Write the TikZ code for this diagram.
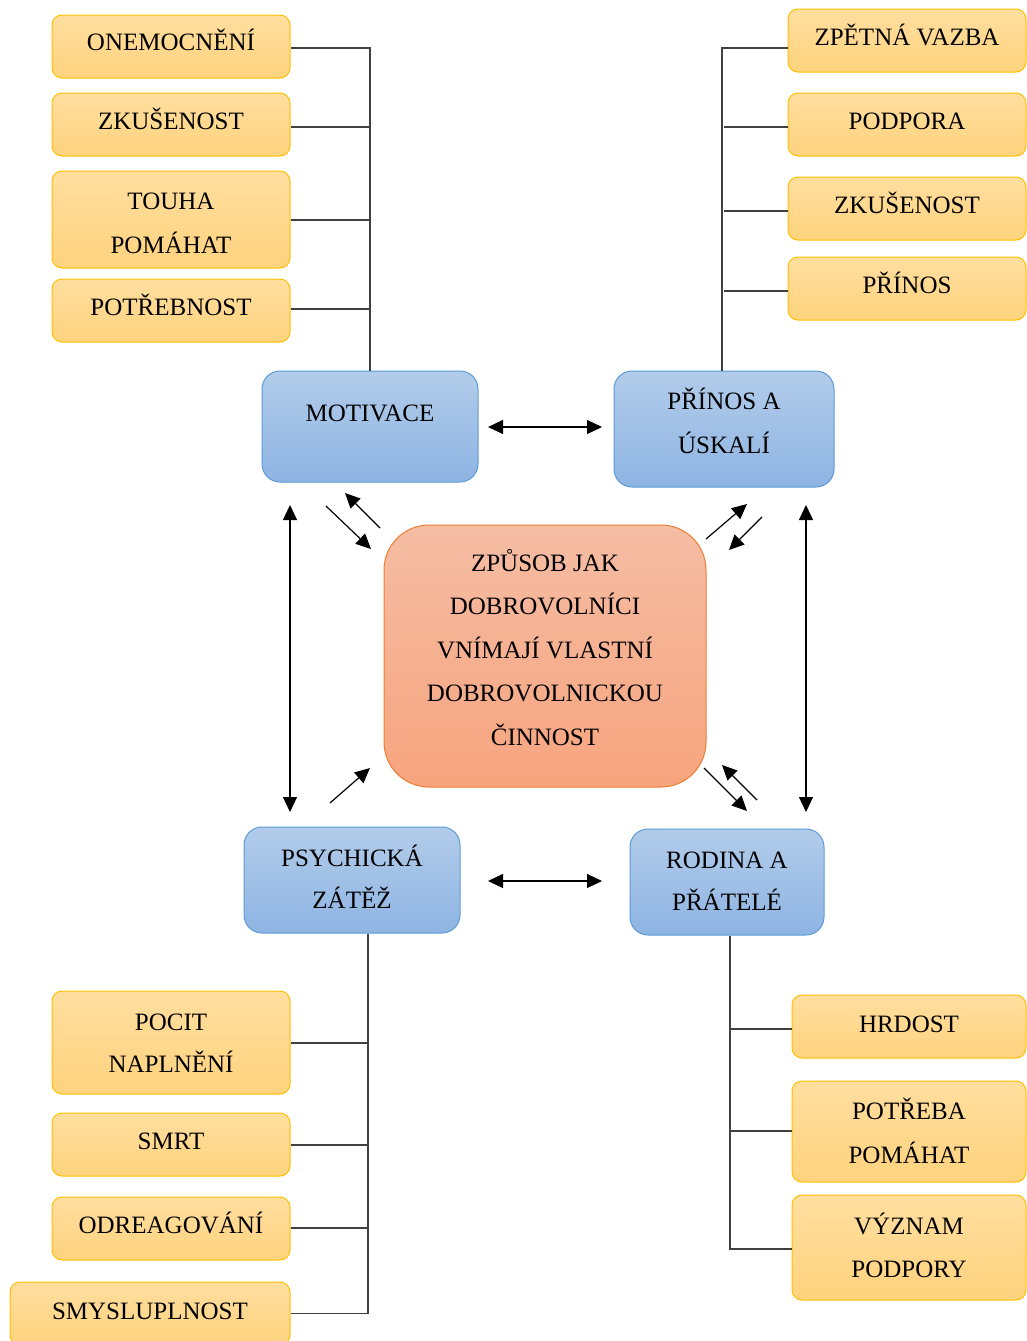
\documentclass[tikz,border=0pt]{standalone}
\usepackage{fontspec}
\setmainfont{Liberation Serif}
\usetikzlibrary{arrows.meta}
\definecolor{yline}{HTML}{FFC000}
\definecolor{ytop}{HTML}{FFDE9F}
\definecolor{ybot}{HTML}{FFD37E}
\definecolor{bline}{HTML}{5B9BD5}
\definecolor{btop}{HTML}{B2CCEA}
\definecolor{bbot}{HTML}{8EB4E3}
\definecolor{oline}{HTML}{ED7D31}
\definecolor{otop}{HTML}{F5BDA4}
\definecolor{obot}{HTML}{F7A47E}
\definecolor{cline}{HTML}{404040}
\tikzset{
  ybox/.style={draw=yline, line width=1pt, rounded corners=10pt, top color=ytop, bottom color=ybot, minimum width=238pt, inner sep=0pt},
  bbox/.style={draw=bline, line width=1pt, rounded corners=18pt, top color=btop, bottom color=bbot, inner sep=0pt},
  obox/.style={draw=oline, line width=1pt, rounded corners=45pt, top color=otop, bottom color=obot, inner sep=0pt},
  txt/.style={anchor=base, inner sep=0pt, font=\fontsize{25}{30}\selectfont},
  conn/.style={draw=cline, line width=1.5pt},
  arr/.style={line width=1.2pt, -{Triangle[length=15pt,width=14pt]}},
  darr/.style={line width=1.2pt, {Triangle[length=15pt,width=14pt]}-{Triangle[length=15pt,width=14pt]}},
}
\begin{document}
\begin{tikzpicture}[x=1pt,y=-1pt]
\useasboundingbox (0,0) rectangle (1027,1341);
\begin{scope}
\clip (0,0) rectangle (1027,1341);
% left top
\node[ybox, minimum height=63pt] (onem) at (171,46.5) {};
\node[txt] (tonem) at (171,50.5) {ONEMOCNĚNÍ};
\node[ybox, minimum height=63pt] (zk1) at (171,124.5) {};
\node[txt] (tzk1) at (171,129.5) {ZKUŠENOST};
\node[ybox, minimum height=97pt] (touha) at (171,219.5) {};
\node[txt] (ttouha1) at (171,209.5) {TOUHA};
\node[txt] (ttouha2) at (171,253.5) {POMÁHAT};
\node[ybox, minimum height=63pt] (potr) at (171,310.5) {};
\node[txt] (tpotr) at (171,315.5) {POTŘEBNOST};
% right top
\node[ybox, minimum height=63pt] (zpet) at (907,40.5) {};
\node[txt] (tzpet) at (907,45.5) {ZPĚTNÁ VAZBA};
\node[ybox, minimum height=63pt] (podp) at (907,124.5) {};
\node[txt] (tpodp) at (907,129.5) {PODPORA};
\node[ybox, minimum height=63pt] (zk2) at (907,208.5) {};
\node[txt] (tzk2) at (907,213.5) {ZKUŠENOST};
\node[ybox, minimum height=63pt] (prinos) at (907,288.5) {};
\node[txt] (tprinos) at (907,293.5) {PŘÍNOS};
% blue
\node[bbox, minimum width=216pt, minimum height=111pt] (mot) at (370,426.5) {};
\node[txt] (tmot) at (370,421.5) {MOTIVACE};
\node[bbox, minimum width=220pt, minimum height=116pt] (pri) at (724,429) {};
\node[txt] (tpri1) at (724,409.5) {PŘÍNOS A};
\node[txt] (tpri2) at (724,453.5) {ÚSKALÍ};
\node[bbox, minimum width=216pt, minimum height=106pt] (psy) at (352,880) {};
\node[txt] (tpsy1) at (352,866.5) {PSYCHICKÁ};
\node[txt] (tpsy2) at (352,908.5) {ZÁTĚŽ};
\node[bbox, minimum width=194pt, minimum height=106pt] (rod) at (727,882) {};
\node[txt] (trod1) at (727,868.5) {RODINA A};
\node[txt] (trod2) at (727,910.5) {PŘÁTELÉ};
% central
\node[obox, minimum width=322pt, minimum height=262pt] (cen) at (545,656) {};
\node[txt] (tc1) at (545,571.5) {ZPŮSOB JAK};
\node[txt] (tc2) at (545,614.5) {DOBROVOLNÍCI};
\node[txt] (tc3) at (545,658.5) {VNÍMAJÍ VLASTNÍ};
\node[txt] (tc4) at (545,701.5) {DOBROVOLNICKOU};
\node[txt] (tc5) at (545,745.5) {ČINNOST};
% bottom left
\node[ybox, minimum height=103pt] (pocit) at (171,1042.5) {};
\node[txt] (tpocit1) at (171,1030.5) {POCIT};
\node[txt] (tpocit2) at (171,1072.5) {NAPLNĚNÍ};
\node[ybox, minimum height=63pt] (smrt) at (171,1144.5) {};
\node[txt] (tsmrt) at (171,1149.5) {SMRT};
\node[ybox, minimum height=63pt] (odre) at (171,1228.5) {};
\node[txt] (todre) at (171,1233.5) {ODREAGOVÁNÍ};
\node[ybox, minimum width=280pt, minimum height=63pt] (smys) at (150,1313.5) {};
\node[txt] (tsmys) at (150,1319.5) {SMYSLUPLNOST};
% bottom right
\node[ybox, minimum width=234pt, minimum height=63pt] (hrd) at (909,1026.5) {};
\node[txt] (thrd) at (909,1032.5) {HRDOST};
\node[ybox, minimum width=234pt, minimum height=101pt] (potb) at (909,1131.5) {};
\node[txt] (tpotb1) at (909,1119.5) {POTŘEBA};
\node[txt] (tpotb2) at (909,1163.5) {POMÁHAT};
\node[ybox, minimum width=234pt, minimum height=105pt] (vyz) at (909,1247.5) {};
\node[txt] (tvyz1) at (909,1234.5) {VÝZNAM};
\node[txt] (tvyz2) at (909,1277.5) {PODPORY};
% tree connectors
\draw[conn] (mot.north) |- ([yshift=-1.5pt]onem.east);
\draw[conn] ([yshift=-2.5pt]zk1.east) -- ([yshift=-2.5pt]zk1.east -| mot.north);
\draw[conn] ([yshift=-0.5pt]touha.east) -- ([yshift=-0.5pt]touha.east -| mot.north);
\draw[conn] ([yshift=1.5pt]potr.east) -- ([yshift=1.5pt]potr.east -| mot.north);
\coordinate (prtop) at ([xshift=-2pt]pri.north);
\draw[conn] (prtop) |- ([yshift=-7.5pt]zpet.west);
\draw[conn] ([yshift=-2.5pt]podp.west) -- ([yshift=-2.5pt]podp.west -| pri.north);
\draw[conn] ([yshift=-2.5pt]zk2.west) -- ([yshift=-2.5pt]zk2.west -| pri.north);
\draw[conn] ([yshift=-2.5pt]prinos.west) -- ([yshift=-2.5pt]prinos.west -| pri.north);
\coordinate (psybot) at ([xshift=16pt]psy.south);
\draw[conn] (psybot) |- (smys.east);
\draw[conn] ([yshift=-0.5pt]pocit.east) -- ([yshift=-0.5pt]pocit.east -| psybot);
\draw[conn] ([yshift=-0.5pt]smrt.east) -- ([yshift=-0.5pt]smrt.east -| psybot);
\draw[conn] ([yshift=0.5pt]odre.east) -- ([yshift=0.5pt]odre.east -| psybot);
\coordinate (rodbot) at ([xshift=3pt]rod.south);
\draw[conn] (rodbot) |- ([yshift=-1.5pt]vyz.west);
\draw[conn] ([yshift=-2.5pt]hrd.west) -- ([yshift=-2.5pt]hrd.west -| rodbot);
\draw[conn] ([yshift=0.5pt]potb.west) -- ([yshift=0.5pt]potb.west -| rodbot);
\end{scope}
% arrows
\coordinate (h1a) at (488,427); \coordinate (h1b) at (602,427);
\draw[darr] (h1a) -- (h1b);
\coordinate (h2a) at (488,881); \coordinate (h2b) at (602,881);
\draw[darr] (h2a) -- (h2b);
\coordinate (v1a) at (290,505); \coordinate (v1b) at (290,812);
\draw[darr] (v1a) -- (v1b);
\coordinate (v2a) at (806,505); \coordinate (v2b) at (806,812);
\draw[darr] (v2a) -- (v2b);
\coordinate (d1a) at (326,506); \coordinate (d1b) at (371,549);
\draw[arr] (d1a) -- (d1b);
\coordinate (d2a) at (380,528); \coordinate (d2b) at (345,493);
\draw[arr] (d2a) -- (d2b);
\coordinate (d3a) at (706,539); \coordinate (d3b) at (747,504);
\draw[arr] (d3a) -- (d3b);
\coordinate (d4a) at (762,517); \coordinate (d4b) at (729,550);
\draw[arr] (d4a) -- (d4b);
\coordinate (d5a) at (330,803); \coordinate (d5b) at (370,768);
\draw[arr] (d5a) -- (d5b);
\coordinate (d6a) at (704,768); \coordinate (d6b) at (747,811);
\draw[arr] (d6a) -- (d6b);
\coordinate (d7a) at (757,800); \coordinate (d7b) at (722,765);
\draw[arr] (d7a) -- (d7b);
\end{tikzpicture}
\end{document}
